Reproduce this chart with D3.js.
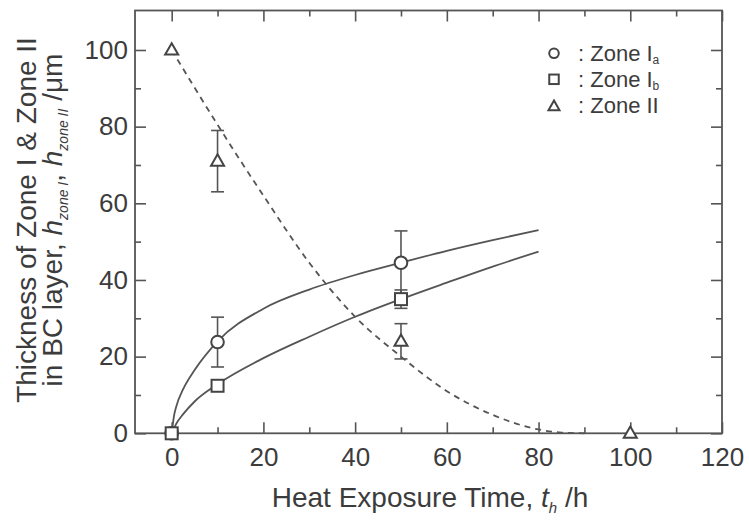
<!DOCTYPE html>
<html><head><meta charset="utf-8">
<script src="https://cdn.jsdelivr.net/npm/d3@7"></script>
<style>body{margin:0;background:#fff}svg{display:block}</style>
</head><body><svg id="c" width="749" height="520"></svg>
<script>
// ---- data ----
const timeIa = [0, 10, 50];
const valIa = [0, 23.8, 44.5];
const errIa = [0, 6.5, 8.3];
const timeIb = [0, 10, 50];
const valIb = [0, 12.4, 35];
const errIb = [0, 1, 2.4];
const timeII = [0, 10, 50, 100];
const valII = [100, 71, 24, 0];
const errII = [0, 8, 4.6, 0];
// fitted curves
const fitIaT = [0, 0.5, 1, 2.5, 5, 10, 20, 30, 40, 50, 60, 70, 80];
const fitIaV = [0, 4.5, 7, 11.5, 16.5, 24, 32.5, 37.5, 41.3, 44.5, 47.6, 50.4, 53];
const fitIbT = [0, 1, 2.5, 5, 10, 20, 30, 40, 50, 60, 70, 80];
const fitIbV = [0, 2.5, 5, 8.3, 12.8, 19.6, 25.2, 30.4, 35, 39.3, 43.5, 47.4];
const fitIIT = [0, 10, 20, 30, 40, 50, 60, 70, 80, 85, 90];
const fitIIV = [100, 80.5, 62, 44.5, 30.4, 20, 11, 4.8, 1, 0.2, 0];
const xMajor = [0, 20, 40, 60, 80, 100, 120];
const xMinor = [10, 30, 50, 70, 90, 110];
const yMajor = [0, 20, 40, 60, 80, 100];
const yMinor = [10, 30, 50, 70, 90];
const legendLabels = ["Zone I", "Zone I", "Zone II"];
const legendSubs = ["a", "b", ""];

// ---- drawing ----
const svg = d3.select("#c");
const L = 135, R = 722, T = 10.5, B = 433.3;
const x = d3.scaleLinear().domain([-8, 120]).range([L, R]);
const y = d3.scaleLinear().domain([0, 110.3]).range([B, T]);
const ink = "#555", txt = "#3c3c3c";
const font = "Liberation Sans, Arial, sans-serif";

function styleAxis(g) {
  g.select(".domain").remove();
  g.selectAll(".tick line").attr("stroke", ink).attr("stroke-width", 1.6);
  g.selectAll("text").attr("fill", txt).attr("font-family", font).attr("font-size", 26);
}
svg.append("g").attr("transform", `translate(0,${B})`)
  .call(d3.axisBottom(x).tickValues(xMajor).tickSize(-11).tickPadding(14)).call(styleAxis);
svg.append("g").attr("transform", `translate(0,${B})`)
  .call(d3.axisBottom(x).tickValues(xMinor).tickSize(-6).tickFormat("")).call(styleAxis);
svg.append("g").attr("transform", `translate(0,${T})`)
  .call(d3.axisTop(x).tickValues(xMajor).tickSize(-11).tickFormat("")).call(styleAxis);
svg.append("g").attr("transform", `translate(0,${T})`)
  .call(d3.axisTop(x).tickValues(xMinor).tickSize(-6).tickFormat("")).call(styleAxis);
svg.append("g").attr("transform", `translate(${L},0)`)
  .call(d3.axisLeft(y).tickValues(yMajor).tickSize(-11).tickPadding(7)).call(styleAxis);
svg.append("g").attr("transform", `translate(${L},0)`)
  .call(d3.axisLeft(y).tickValues(yMinor).tickSize(-6).tickFormat("")).call(styleAxis);
svg.append("g").attr("transform", `translate(${R},0)`)
  .call(d3.axisRight(y).tickValues(yMajor).tickSize(-11).tickFormat("")).call(styleAxis);
svg.append("g").attr("transform", `translate(${R},0)`)
  .call(d3.axisRight(y).tickValues(yMinor).tickSize(-6).tickFormat("")).call(styleAxis);

svg.append("rect").attr("x", L).attr("y", T).attr("width", R - L).attr("height", B - T)
  .attr("fill", "none").attr("stroke", ink).attr("stroke-width", 1.8);

// curves
const line = d3.line().x(d => x(d[0])).y(d => y(d[1])).curve(d3.curveMonotoneX);
svg.append("path").attr("d", line(d3.zip(fitIaT, fitIaV))).attr("fill", "none")
  .attr("stroke", ink).attr("stroke-width", 1.8);
svg.append("path").attr("d", line(d3.zip(fitIbT, fitIbV))).attr("fill", "none")
  .attr("stroke", ink).attr("stroke-width", 1.8);
svg.append("path").attr("d", line(d3.zip(fitIIT, fitIIV))).attr("fill", "none")
  .attr("stroke", ink).attr("stroke-width", 1.8).attr("stroke-dasharray", "6,5");

// error bars
function errorBars(ts, vs, es) {
  ts.forEach((t, i) => {
    if (!es[i]) return;
    const cx = x(t), y1 = y(vs[i] + es[i]), y2 = y(vs[i] - es[i]);
    const g = svg.append("g").attr("stroke", ink).attr("stroke-width", 1.6);
    g.append("line").attr("x1", cx).attr("x2", cx).attr("y1", y1).attr("y2", y2);
    g.append("line").attr("x1", cx - 6.5).attr("x2", cx + 6.5).attr("y1", y1).attr("y2", y1);
    g.append("line").attr("x1", cx - 6.5).attr("x2", cx + 6.5).attr("y1", y2).attr("y2", y2);
  });
}
errorBars(timeIa, valIa, errIa);
errorBars(timeIb, valIb, errIb);
errorBars(timeII, valII, errII);

// markers
const mk = {stroke: "#444", sw: 2};
function circle(cx, cy, r) {
  svg.append("circle").attr("cx", cx).attr("cy", cy).attr("r", r)
    .attr("fill", "#fff").attr("stroke", mk.stroke).attr("stroke-width", mk.sw);
}
function square(cx, cy, s) {
  svg.append("rect").attr("x", cx - s / 2).attr("y", cy - s / 2).attr("width", s).attr("height", s)
    .attr("fill", "#fff").attr("stroke", mk.stroke).attr("stroke-width", mk.sw);
}
function tri(cx, cy, s) {
  const h = s * 0.87;
  svg.append("path").attr("d", `M${cx},${cy - h * 0.6}L${cx + s / 2},${cy + h * 0.4}L${cx - s / 2},${cy + h * 0.4}Z`)
    .attr("fill", "#fff").attr("stroke", mk.stroke).attr("stroke-width", mk.sw);
}
timeII.forEach((t, i) => tri(x(t), y(valII[i]), 13));
timeIa.forEach((t, i) => circle(x(t), y(valIa[i]), 6.3));
timeIb.forEach((t, i) => square(x(t), y(valIb[i]), 12));

// legend
const lg = svg.append("g");
const lx = 554, ly0 = 53.3, ldy = 26;
circle(lx, ly0, 4.8);
square(lx, ly0 + ldy, 9.5);
tri(lx, ly0 + 2 * ldy + 1, 11);
legendLabels.forEach((lab, i) => {
  const t = lg.append("text").attr("x", 578).attr("y", ly0 + i * ldy + 8)
    .attr("font-family", font).attr("font-size", 22).attr("fill", txt);
  t.append("tspan").text(": " + lab);
  if (legendSubs[i]) t.append("tspan").attr("font-size", 12).attr("dy", 3).text(legendSubs[i]);
});

// x title
const xt = svg.append("text").attr("x", 430).attr("y", 507).attr("text-anchor", "middle")
  .attr("font-family", font).attr("font-size", 28).attr("fill", txt);
xt.append("tspan").text("Heat Exposure Time, ");
xt.append("tspan").attr("font-style", "italic").text("t");
xt.append("tspan").attr("font-style", "italic").attr("font-size", 15).attr("dy", 6).text("h");
xt.append("tspan").attr("dy", -6).text(" /h");

// y title
const yt = svg.append("g").attr("transform", "translate(0,220) rotate(-90)");
yt.append("text").attr("x", 0).attr("y", 36).attr("text-anchor", "middle")
  .attr("font-family", font).attr("font-size", 28).attr("fill", txt)
  .text("Thickness of Zone I & Zone II");
const y2 = yt.append("text").attr("x", 0).attr("y", 62).attr("text-anchor", "middle")
  .attr("font-family", font).attr("font-size", 28).attr("fill", txt);
y2.append("tspan").text("in BC layer, ");
y2.append("tspan").attr("font-style", "italic").text("h");
y2.append("tspan").attr("font-style", "italic").attr("font-size", 14).attr("dy", 6).text("zone I");
y2.append("tspan").attr("dy", -6).text(", ");
y2.append("tspan").attr("font-style", "italic").text("h");
y2.append("tspan").attr("font-style", "italic").attr("font-size", 14).attr("dy", 6).text("zone II");
y2.append("tspan").attr("dy", -6).text(" /μm");
</script></body></html>
